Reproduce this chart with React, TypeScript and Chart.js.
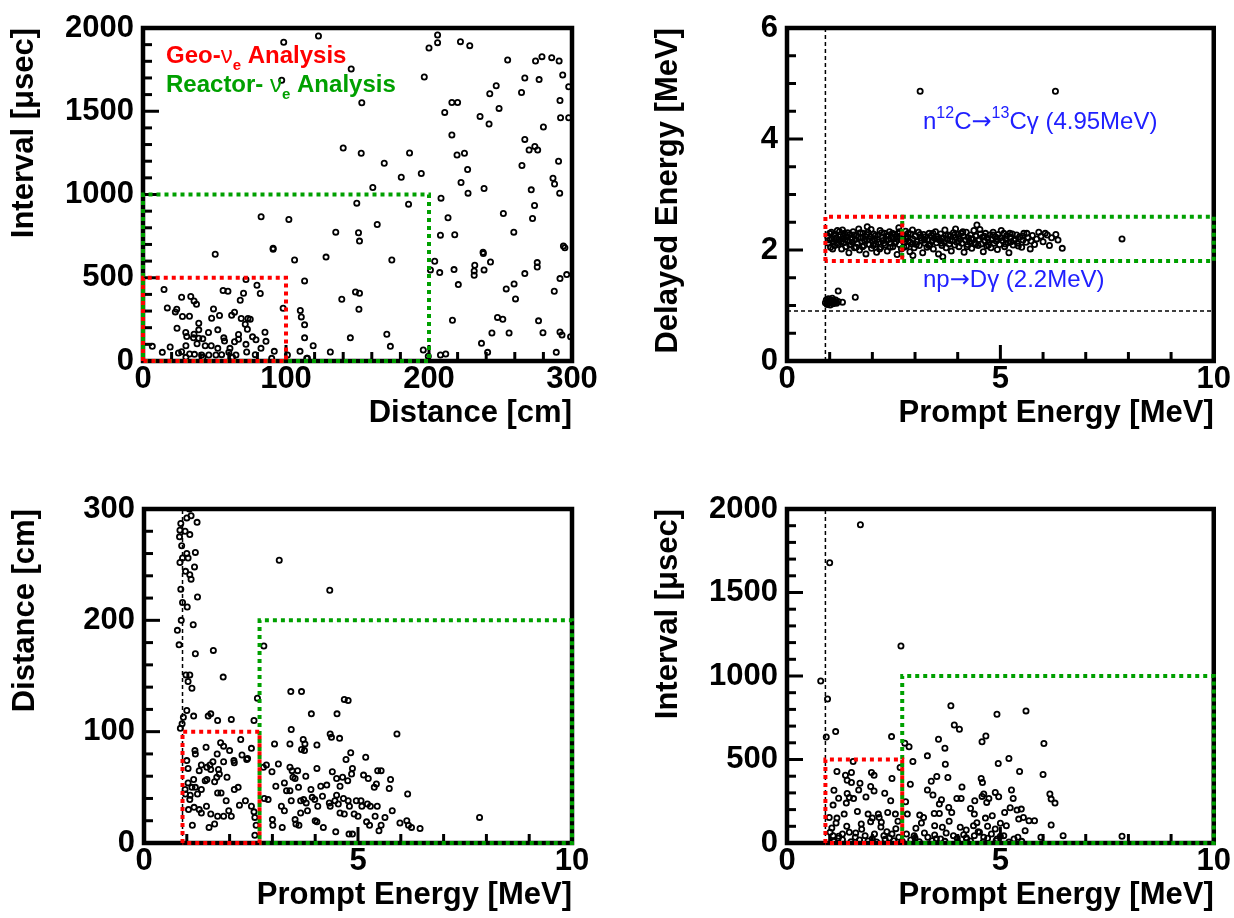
import React, { useEffect, useRef } from "react";
import { Chart, registerables } from "chart.js";

Chart.register(...registerables);

const FONT = "'Liberation Sans', Arial, Helvetica, sans-serif";
const ARROW_FONT = "'DejaVu Sans', 'Liberation Sans', sans-serif";
const RED = "#ff0000";
const GREEN = "#00a000";
const BLUE = "#2020ff";

// ---------------- data ----------------
// Panel 1: Distance [cm] vs Interval [usec]
const distanceIntervalPoints: [number, number][] = [
  [122.7, 1952], [206, 1958], [206, 1912], [200, 1880], [222, 1918], [228.5, 1894], [145.6, 1754], [196.7, 1706],
  [255, 1808], [274.5, 1802], [279, 1828], [285.8, 1822], [291, 1802], [267, 1700], [277, 1690], [293.5, 1718],
  [297.7, 1647], [247, 1653], [242.5, 1605], [264.7, 1613], [291.6, 1565], [216, 1553], [220, 1553], [153, 1551],
  [211, 1493], [249, 1517], [235.7, 1469], [242, 1423], [292, 1461], [297.7, 1461], [280, 1405], [216, 1357],
  [140, 1279], [152.6, 1248], [186.4, 1249], [219.6, 1237], [224.8, 1248], [267, 1331], [270, 1267], [274, 1289],
  [276, 1267], [168.7, 1188], [227, 1150], [290.6, 1200], [265, 1174], [180.6, 1104], [194.6, 1126], [222.4, 1072],
  [286.7, 1098], [287.8, 1063], [160.7, 1042], [238.5, 1036], [227.3, 1008], [271.5, 1028], [291.4, 1008], [149.5, 948],
  [185.7, 942], [208.4, 978], [273.8, 934], [252, 886], [213.3, 860], [272.4, 856], [163.8, 820], [134.8, 774],
  [150.7, 770], [151.4, 720], [208, 756], [218, 758], [259.3, 774], [294, 690], [295, 680], [98.4, 1914], [97, 1686],
  [82.6, 866], [102, 850], [91, 677],
  [50.5, 641], [91, 671], [106, 607], [113, 481], [72, 489], [14.7, 429], [56, 423], [59.4, 419], [70.3, 407],
  [79.7, 455], [82, 405], [27, 383], [33.4, 387], [35.7, 361], [37.4, 341], [68, 365], [17, 319], [23.6, 311],
  [49.3, 313], [98, 317], [110, 303], [22.6, 295], [64, 293], [27.6, 267], [32.5, 269], [48, 257], [53.5, 273],
  [62, 275], [110.7, 265], [68.7, 255], [73.4, 255], [75, 251], [39, 227], [71.5, 221], [113, 217], [23.8, 197],
  [39, 187], [52.3, 187], [73, 191], [29.9, 171], [35.7, 161], [66.8, 159], [85.3, 173], [45.8, 171], [56.5, 139],
  [113, 139], [30.6, 147], [35.3, 139], [41.8, 133], [39, 137], [66.8, 131], [76.6, 145], [57, 120], [64, 116],
  [79, 128], [86, 118], [37.8, 104], [72, 100], [30, 92], [43.5, 92], [47.7, 92], [6.5, 88], [19, 84], [52.3, 76],
  [60.8, 76], [82.5, 76], [119, 92], [27, 56], [13.5, 52], [24.8, 48], [32.6, 42], [36, 40], [41, 36], [46, 36],
  [51, 36], [55, 38], [60, 52], [65, 36], [72.5, 54], [78.5, 38], [91.8, 58], [109.8, 58], [101, 36], [30, 22],
  [42, 22], [62.6, 22], [90, 16], [115, 16],
  [128, 624], [174, 607], [139, 371], [148.6, 415], [151.4, 407], [151, 311], [145, 139], [170.5, 161], [131, 54],
  [173, 88], [196, 66], [114.5, 16], [199.5, 28], [204, 599], [201, 547], [207.5, 531], [217.5, 549], [220.5, 459],
  [232, 575], [231.6, 541], [231.6, 515], [238.5, 547], [237.8, 653], [238, 645], [243, 595], [267, 525], [275.7, 591],
  [275.7, 565], [259.5, 463], [254, 433], [260.5, 373], [291.6, 495], [287.6, 419], [296.3, 519], [247.9, 262],
  [251.6, 251], [216.4, 245], [276.6, 241], [244, 168], [256, 168], [279.7, 170], [291.6, 174], [293, 156],
  [236.7, 106], [241, 52], [211.7, 42], [289, 52], [299, 146], [208, 36],
];

// Panel 2: Prompt Energy [MeV] vs Delayed Energy [MeV]
const promptDelayedPoints: [number, number][] = [
  [0.95, 2.25], [0.98, 2.12], [1.0, 2.3], [1.02, 2.05], [1.05, 2.2], [1.08, 2.15], [1.1, 2.28], [1.12, 2.08],
  [1.15, 2.22], [1.18, 2.35], [1.2, 2.1], [1.22, 2.18], [1.25, 2.27], [1.28, 2.02], [1.3, 2.2], [1.33, 2.13],
  [1.35, 2.3], [1.38, 2.06], [1.4, 2.24], [1.43, 2.17], [1.45, 1.95], [1.48, 2.28], [1.5, 2.1], [1.52, 2.21],
  [1.55, 2.33], [1.58, 2.04], [1.6, 2.19], [1.63, 2.26], [1.65, 2.12], [1.68, 2.38], [1.7, 2.0], [1.73, 2.22],
  [1.75, 2.15], [1.78, 2.3], [1.8, 2.08], [1.83, 2.25], [1.85, 1.93], [1.88, 2.18], [1.9, 2.32], [1.93, 2.1],
  [1.95, 2.24], [1.98, 2.03], [2.0, 2.16], [2.03, 2.29], [2.05, 2.2], [2.08, 2.11], [2.1, 1.96], [2.13, 2.27],
  [2.15, 2.14], [2.18, 2.35], [2.2, 2.05], [2.23, 2.22], [2.25, 2.17], [2.28, 2.3], [2.3, 2.09], [2.33, 2.25],
  [2.35, 1.98], [2.38, 2.19], [2.4, 2.33], [2.43, 2.12], [2.45, 2.24], [2.48, 2.06], [2.5, 2.2], [2.53, 2.28],
  [2.55, 2.15], [2.58, 1.92], [2.6, 2.3], [2.63, 2.1], [2.65, 2.22], [2.68, 2.02], [2.7, 2.18], [2.73, 2.27],
  [2.75, 2.13], [2.78, 2.34], [2.8, 2.07], [2.83, 2.23], [2.85, 2.16], [2.88, 1.97], [2.9, 2.29], [2.93, 2.11],
  [2.95, 2.2], [2.98, 2.04], [3.0, 2.25], [3.05, 2.15], [3.08, 2.32], [3.1, 2.08], [3.13, 2.22], [3.15, 2.17],
  [3.18, 1.95], [3.2, 2.28], [3.23, 2.12], [3.25, 2.24], [3.28, 2.05], [3.3, 2.19], [3.33, 2.3], [3.35, 2.1],
  [3.38, 2.26], [3.4, 2.16], [3.43, 2.02], [3.45, 2.21], [3.48, 2.33], [3.5, 2.13], [3.53, 2.24], [3.55, 1.93],
  [3.58, 2.18], [3.6, 2.29], [3.63, 2.08], [3.65, 2.22], [3.68, 2.15], [3.7, 2.36], [3.73, 2.04], [3.75, 2.2],
  [3.78, 2.27], [3.8, 2.11], [3.83, 2.25], [3.85, 1.98], [3.88, 2.17], [3.9, 2.31], [3.93, 2.09], [3.95, 2.23],
  [3.98, 2.14], [4.0, 2.28], [4.03, 2.06], [4.05, 2.2], [4.08, 2.3], [4.1, 2.12], [4.13, 2.25], [4.15, 1.96],
  [4.18, 2.18], [4.2, 2.32], [4.23, 2.1], [4.25, 2.22], [4.28, 2.15], [4.3, 2.27], [4.33, 2.03], [4.35, 2.2],
  [4.38, 2.35], [4.4, 2.13], [4.43, 2.25], [4.45, 2.45], [4.48, 2.08], [4.5, 2.19], [4.53, 2.29], [4.55, 2.11],
  [4.58, 2.23], [4.6, 1.97], [4.63, 2.17], [4.65, 2.3], [4.68, 2.07], [4.7, 2.21], [4.73, 2.14], [4.75, 2.27],
  [4.78, 2.04], [4.8, 2.19], [4.83, 2.32], [4.85, 2.12], [4.88, 2.24], [4.9, 2.16], [4.93, 2.01], [4.95, 2.28],
  [4.98, 2.1], [5.0, 2.22], [5.05, 2.17], [5.08, 2.3], [5.1, 2.06], [5.13, 2.2], [5.15, 2.26], [5.18, 2.13],
  [5.2, 1.95], [5.23, 2.23], [5.25, 2.15], [5.28, 2.29], [5.3, 2.09], [5.35, 2.2], [5.38, 2.27], [5.4, 2.12],
  [5.45, 2.24], [5.5, 2.05], [5.53, 2.18], [5.55, 2.3], [5.6, 2.14], [5.65, 2.22], [5.7, 2.02], [5.75, 2.26],
  [5.8, 2.1], [5.85, 2.2], [5.9, 2.32], [6.0, 2.15], [6.1, 2.27], [6.2, 2.22], [6.3, 2.28], [6.45, 2.03],
  [7.85, 2.2], [1.88, 2.42], [2.62, 2.4], [3.95, 2.38], [1.3, 2.36], [2.95, 1.9], [3.65, 1.88],
  [1.0, 2.18], [1.04, 2.32], [1.07, 2.02], [1.13, 2.26], [1.17, 2.12], [1.23, 2.33], [1.27, 2.15], [1.32, 2.25],
  [1.37, 2.19], [1.42, 2.31], [1.47, 2.09], [1.53, 2.14], [1.57, 2.27], [1.62, 2.05], [1.67, 2.23], [1.72, 2.31],
  [1.77, 2.06], [1.82, 2.17], [1.87, 2.28], [1.92, 2.2], [1.97, 2.37], [2.02, 2.08], [2.07, 2.26], [2.12, 2.19],
  [2.17, 2.02], [2.22, 2.31], [2.27, 2.12], [2.32, 2.18], [2.37, 2.27], [2.42, 2.05], [2.47, 2.3], [2.52, 2.12],
  [2.57, 2.24], [2.64, 2.33], [2.69, 2.26], [2.74, 2.05], [2.79, 2.2], [2.84, 2.3], [2.89, 2.14], [2.94, 2.36],
  [3.03, 2.1], [3.12, 2.28], [3.22, 2.18], [3.32, 2.08], [3.42, 2.3], [3.52, 2.2], [3.62, 2.12], [3.72, 2.26],
  [3.82, 2.17], [3.92, 2.27], [4.02, 2.16], [4.12, 2.33], [4.22, 2.06], [4.32, 2.2], [4.42, 2.1], [4.52, 2.37],
  [4.62, 2.25], [4.72, 2.09], [4.82, 2.27], [4.92, 2.2], [5.02, 2.35], [5.12, 2.11], [5.22, 2.3], [5.32, 2.17],
  [5.42, 2.07], [5.52, 2.25], [5.62, 2.3], [5.72, 2.16], [5.95, 2.25], [6.05, 2.3], [6.15, 2.08], [6.35, 2.18],
  [0.9, 1.05], [0.92, 1.1], [0.94, 1.02], [0.95, 1.07], [0.97, 1.12], [0.98, 1.04], [1.0, 1.08], [1.01, 1.01],
  [1.03, 1.1], [1.05, 1.05], [1.06, 1.13], [1.08, 1.03], [1.1, 1.08], [1.12, 1.06], [1.14, 1.1], [1.16, 1.04],
  [1.2, 1.07], [1.2, 1.26], [1.3, 1.06], [1.6, 1.15],
  [3.12, 4.86], [6.29, 4.86],
];

// Panel 3: Prompt Energy [MeV] vs Distance [cm]
const promptDistancePoints: [number, number][] = [
  [1.06, 300], [1.1, 294], [1.0, 292], [1.24, 288], [0.86, 287], [0.84, 281], [0.96, 280], [1.07, 277], [0.83, 275],
  [0.88, 267], [1.0, 260], [1.2, 261], [0.9, 256], [1.03, 256], [0.84, 252], [0.97, 244], [1.18, 248], [1.07, 241],
  [1.1, 237], [0.86, 228], [0.9, 216], [1.01, 212], [1.25, 221], [0.87, 200], [0.78, 191], [1.15, 196], [0.82, 178],
  [1.2, 170], [1.62, 173], [1.85, 149], [0.98, 151], [1.07, 151], [1.03, 145], [1.12, 139], [3.16, 254], [2.8, 177],
  [3.43, 136], [3.68, 136], [2.65, 130], [1.0, 119], [4.34, 227], [4.68, 129], [4.77, 128],
  [0.85, 103], [0.89, 107], [0.92, 113], [1.16, 114], [1.5, 114], [1.56, 116], [1.72, 110], [2.04, 111], [2.57, 110],
  [3.91, 116], [4.51, 116], [5.91, 98], [3.44, 102], [4.35, 98], [4.38, 95], [4.57, 94], [3.05, 89], [3.41, 89],
  [3.72, 93], [3.76, 89], [3.68, 84], [3.75, 83], [4.04, 88], [2.26, 93], [2.0, 83], [1.79, 90], [1.86, 87],
  [1.45, 86], [1.19, 83], [1.2, 80], [1.71, 80], [2.29, 79], [2.42, 76], [2.51, 85], [2.4, 75], [2.1, 74], [2.11, 72],
  [1.86, 73], [1.61, 73], [1.54, 70], [1.47, 68], [1.0, 74], [1.03, 67], [1.29, 65], [1.34, 70], [1.56, 66],
  [1.74, 66], [1.76, 62], [1.94, 59], [1.7, 59], [1.47, 57], [1.43, 56], [1.16, 57], [1.03, 54], [1.12, 50],
  [1.2, 50], [1.34, 48], [1.25, 44], [1.08, 43], [0.96, 48], [0.97, 44], [1.07, 39], [1.04, 30], [1.17, 32],
  [1.29, 30], [1.34, 27], [1.46, 33], [1.56, 26], [1.72, 24], [1.86, 24], [2.04, 24], [1.98, 29], [2.23, 34],
  [2.37, 38], [2.51, 33], [2.57, 28], [2.59, 23], [2.62, 16], [2.59, 7], [1.52, 14], [1.65, 17], [1.13, 16],
  [1.72, 45], [1.92, 38], [2.2, 50], [2.11, 48], [1.65, 55], [1.8, 45],
  [2.79, 68], [2.86, 70], [2.99, 64], [3.14, 71], [3.41, 68], [3.46, 65], [3.59, 65], [3.48, 59], [3.53, 58],
  [3.28, 54], [3.08, 51], [3.33, 47], [3.61, 50], [3.78, 60], [3.9, 48], [4.04, 67], [4.13, 51], [4.27, 52],
  [4.4, 64], [4.5, 58], [4.58, 51], [4.64, 59], [4.76, 56], [4.85, 62], [4.87, 67], [4.83, 81], [4.72, 75],
  [5.18, 77], [5.13, 61], [5.24, 58], [5.46, 65], [5.54, 65], [5.38, 50], [5.43, 53], [5.76, 57], [5.73, 49],
  [6.16, 44], [5.8, 29], [5.63, 23], [5.98, 18], [6.14, 20], [6.18, 16], [6.25, 14], [6.45, 13], [7.84, 23],
  [2.81, 40], [2.9, 39], [3.0, 21], [3.01, 16], [3.23, 14], [3.21, 33], [3.28, 29], [3.41, 47], [3.44, 38],
  [3.53, 21], [3.55, 17], [3.62, 16], [3.66, 38], [3.73, 39], [3.79, 36], [3.82, 29], [3.93, 41], [3.99, 39],
  [4.0, 20], [4.04, 19], [4.17, 42], [4.19, 14], [4.06, 33], [4.33, 36], [4.35, 33], [4.46, 38], [4.54, 35],
  [4.58, 27], [4.48, 10], [4.66, 40], [4.77, 38], [4.8, 33], [4.68, 26], [4.96, 38], [5.07, 38], [4.91, 26],
  [5.0, 24], [5.09, 33], [5.22, 35], [5.29, 33], [5.45, 33], [5.4, 24], [5.2, 19], [5.27, 16], [5.49, 11],
  [5.54, 16], [4.79, 8], [4.87, 8], [3.66, 27], [4.5, 43],
];

// Panel 4: Prompt Energy [MeV] vs Interval [usec]
const promptIntervalPoints: [number, number][] = [
  [1.72, 1906], [1.0, 1678], [2.67, 1180], [0.79, 970], [0.95, 862], [3.84, 822],
  [5.6, 791], [4.92, 771], [1.14, 667], [0.92, 635], [3.92, 707], [4.04, 681], [2.45, 637], [4.66, 641], [4.57, 606],
  [3.55, 621], [2.76, 598], [2.86, 576], [3.7, 568], [6.02, 596], [3.29, 522], [2.95, 488], [1.55, 488], [4.95, 476],
  [5.2, 506], [3.71, 472], [5.45, 428], [6.0, 410], [1.17, 428], [1.51, 422], [1.98, 422], [2.04, 406], [1.37, 406],
  [1.41, 376], [1.71, 358], [1.51, 362], [2.46, 386], [2.65, 452], [3.51, 398], [3.77, 392], [3.38, 370], [4.55, 386],
  [4.58, 362], [4.1, 336], [1.96, 338], [2.89, 352], [1.1, 316], [1.68, 318], [2.04, 312], [3.29, 318], [2.29, 298],
  [1.41, 296], [1.46, 272], [1.56, 266], [1.21, 268], [1.85, 276], [2.43, 253], [2.78, 247], [3.42, 287], [3.62, 259],
  [3.57, 233], [3.98, 267], [4.08, 267], [4.4, 253], [4.57, 279], [4.68, 243], [4.73, 267], [4.61, 293], [4.88, 303],
  [4.96, 277], [5.26, 317], [5.3, 267], [6.16, 293], [6.19, 263], [6.28, 239], [1.08, 227], [1.39, 239], [3.79, 213],
  [3.86, 183], [4.3, 207], [4.39, 173], [5.1, 183], [5.23, 211], [5.39, 197], [5.49, 203], [1.65, 189], [1.9, 173],
  [2.14, 173], [2.16, 153], [2.36, 183], [2.54, 173], [2.82, 173], [3.11, 167], [3.2, 153], [3.45, 177], [3.57, 177],
  [4.65, 149], [4.81, 163], [5.43, 143], [5.54, 153], [5.67, 133], [5.8, 133], [6.19, 108], [0.99, 153], [1.17, 149],
  [1.34, 173], [1.96, 127], [1.74, 114], [2.21, 124], [3.02, 88], [3.46, 104], [3.64, 94], [4.06, 94], [4.2, 78],
  [4.37, 104], [4.48, 68], [4.7, 100], [4.88, 84], [5.14, 104], [5.58, 74], [5.95, 34], [6.47, 44], [7.85, 40],
  [1.01, 64], [1.08, 44], [1.21, 40], [1.3, 54], [1.46, 64], [1.61, 60], [1.83, 44], [2.05, 54], [2.27, 44],
  [2.34, 68], [2.46, 54], [2.62, 34], [2.8, 54], [2.98, 44], [3.22, 60], [3.3, 34], [3.46, 48], [3.6, 24], [3.73, 60],
  [3.9, 44], [3.99, 28], [4.14, 50], [4.21, 24], [4.39, 44], [4.51, 64], [4.61, 34], [4.79, 54], [4.92, 24],
  [5.08, 44], [5.32, 24], [5.41, 34],
  [1.1, 10], [1.3, 20], [1.5, 8], [1.7, 18], [1.9, 12], [2.1, 6], [2.3, 22], [2.5, 14], [2.7, 10], [2.9, 18],
  [3.1, 8], [3.4, 14], [3.7, 10], [4.0, 6], [4.3, 12], [4.6, 8], [4.9, 14], [5.2, 6], [5.5, 10], [1.2, 28], [1.6, 34],
  [2.0, 26], [2.4, 30], [3.0, 30], [3.5, 26], [4.2, 32], [4.7, 28], [5.0, 40], [1.05, 90], [1.4, 100], [1.75, 82],
  [2.2, 96], [2.55, 86], [3.15, 120], [3.8, 130], [4.45, 122], [5.0, 118], [1.15, 120], [2.6, 130], [2.0, 150],
];

// selection boxes and thresholds
const geoBoxDistInterval: [number, number][] = [[0, 0], [0, 500], [100, 500], [100, 0], [0, 0]];
const reactorBoxDistInterval: [number, number][] = [[0, 0], [0, 1000], [200, 1000], [200, 0], [0, 0]];
const geoBoxPromptDelayed: [number, number][] = [[0.9, 1.8], [0.9, 2.6], [2.7, 2.6], [2.7, 1.8], [0.9, 1.8]];
const reactorBoxPromptDelayed: [number, number][] = [[2.7, 1.8], [2.7, 2.6], [10, 2.6], [10, 1.8], [2.7, 1.8]];
const geoBoxPromptDistance: [number, number][] = [[0.9, 0], [0.9, 100], [2.7, 100], [2.7, 0], [0.9, 0]];
const reactorBoxPromptDistance: [number, number][] = [[2.7, 0], [2.7, 200], [10, 200], [10, 0], [2.7, 0]];
const geoBoxPromptInterval: [number, number][] = [[0.9, 0], [0.9, 500], [2.7, 500], [2.7, 0], [0.9, 0]];
const reactorBoxPromptInterval: [number, number][] = [[2.7, 0], [2.7, 1000], [10, 1000], [10, 0], [2.7, 0]];
const promptThresholdLineDelayed: [number, number][] = [[0.9, 0], [0.9, 6]];
const delayedThresholdLine: [number, number][] = [[0, 0.9], [10, 0.9]];
const promptThresholdLineDistance: [number, number][] = [[0.9, 0], [0.9, 300]];
const promptThresholdLineInterval: [number, number][] = [[0.9, 0], [0.9, 2000]];

// axis definitions
const distanceAxis = { min: 0, max: 300, major: 100, minor: 20, title: "Distance [cm]" };
const intervalAxis = { min: 0, max: 2000, major: 500, minor: 100, title: "Interval [\u03bcsec]" };
const promptAxis = { min: 0, max: 10, major: 5, minor: 1, title: "Prompt Energy [MeV]" };
const delayedAxis = { min: 0, max: 6, major: 2, minor: 0.5, title: "Delayed Energy [MeV]" };

// ---------------- drawing helpers ----------------
const W = 1234;
const H = 918;
const YW = 135; // y-scale box width
const XH = 68; // x-scale box height

type Run = { t: string; size: number; bold?: boolean; dy?: number; color: string; family?: string };

function drawRuns(ctx: CanvasRenderingContext2D, x: number, y: number, runs: Run[]) {
  let cx = x;
  for (const r of runs) {
    ctx.font = `${r.bold ? "bold " : ""}${r.size}px ${r.family || FONT}`;
    ctx.fillStyle = r.color;
    ctx.textAlign = "left";
    ctx.textBaseline = "alphabetic";
    ctx.fillText(r.t, cx, y + (r.dy || 0));
    cx += ctx.measureText(r.t).width;
  }
}

type AxisDef = typeof distanceAxis;
type Box = { pts: [number, number][]; color: string };

type Panel = {
  area: [number, number, number, number];
  points: [number, number][];
  xAxis: AxisDef;
  yAxis: AxisDef;
  boxes: Box[];
  dashed: [number, number][][];
  text?: (ctx: CanvasRenderingContext2D, a: any) => void;
};

function makeFramePlugin(p: Panel) {
  return {
    id: "rootFrame",
    beforeDatasetsDraw(chart: any) {
      const ctx: CanvasRenderingContext2D = chart.ctx;
      const a = chart.chartArea;
      const scales = chart.scales;
      ctx.save();
      ctx.strokeStyle = "#000";
      ctx.lineCap = "butt";
      ctx.lineWidth = 3;
      const tickSet = (scale: any, def: AxisDef, horiz: boolean) => {
        const n = Math.round((def.max - def.min) / def.minor);
        for (let i = 0; i <= n; i++) {
          const v = def.min + i * def.minor;
          const isMajor = Math.abs(v / def.major - Math.round(v / def.major)) < 1e-6;
          const len = isMajor ? 16 : 9;
          const px = scale.getPixelForValue(v);
          ctx.beginPath();
          if (horiz) {
            ctx.moveTo(px, a.bottom);
            ctx.lineTo(px, a.bottom - len);
          } else {
            ctx.moveTo(a.left, px);
            ctx.lineTo(a.left + len, px);
          }
          ctx.stroke();
        }
      };
      tickSet(scales.x, p.xAxis, true);
      tickSet(scales.y, p.yAxis, false);
      ctx.lineWidth = 4.5;
      ctx.strokeRect(a.left, a.top, a.right - a.left, a.bottom - a.top);
      ctx.restore();
    },
    afterDatasetsDraw(chart: any) {
      if (p.text) {
        const ctx: CanvasRenderingContext2D = chart.ctx;
        ctx.save();
        p.text(ctx, chart.chartArea);
        ctx.restore();
      }
    },
  };
}

const toXY = (pts: [number, number][]) => pts.map(([x, y]) => ({ x, y }));

function buildConfig(p: Panel): any {
  const [L, T, R, B] = p.area;
  const tickFont = { family: FONT, size: 31, weight: "bold", lineHeight: 1 };
  const datasets: any[] = [];
  p.boxes.forEach((b, i) => {
    datasets.push({
      data: toXY(b.pts),
      showLine: true,
      borderColor: b.color,
      backgroundColor: b.color,
      borderWidth: 4,
      borderDash: [4, 4],
      borderDashOffset: i % 2 === 0 ? 0 : 4,
      pointRadius: 0,
      fill: false,
      tension: 0,
      clip: false,
      order: 0,
    });
  });
  p.dashed.forEach((d) => {
    datasets.push({
      data: toXY(d),
      showLine: true,
      borderColor: "#000",
      borderWidth: 1.5,
      borderDash: [4, 3],
      pointRadius: 0,
      fill: false,
      clip: false,
      order: 1,
    });
  });
  datasets.push({
    data: toXY(p.points),
    showLine: false,
    pointStyle: "circle",
    pointRadius: 2.6,
    borderWidth: 1.8,
    borderColor: "#000",
    backgroundColor: "rgba(255,255,255,0)",
    order: 2,
  });
  const fmt = (v: any) => String(v);
  return {
    type: "scatter",
    data: { datasets },
    plugins: [makeFramePlugin(p)],
    options: {
      responsive: false,
      maintainAspectRatio: false,
      animation: false,
      events: [],
      layout: { padding: { left: L - YW, top: T, right: W - R, bottom: H - B - XH } },
      plugins: {
        legend: { display: false },
        tooltip: { enabled: false },
      },
      scales: {
        x: {
          type: "linear",
          position: "bottom",
          min: p.xAxis.min,
          max: p.xAxis.max,
          grid: { display: false, drawTicks: false },
          border: { display: false },
          ticks: {
            stepSize: p.xAxis.major,
            autoSkip: false,
            maxRotation: 0,
            minRotation: 0,
            padding: 3,
            color: "#000",
            font: tickFont,
            callback: fmt,
          },
          title: {
            display: true,
            text: p.xAxis.title,
            align: "end",
            color: "#000",
            font: tickFont,
            padding: { top: 0, bottom: 0 },
          },
          afterFit: (s: any) => {
            s.height = XH;
          },
        },
        y: {
          type: "linear",
          position: "left",
          min: p.yAxis.min,
          max: p.yAxis.max,
          grid: { display: false, drawTicks: false },
          border: { display: false },
          ticks: {
            stepSize: p.yAxis.major,
            autoSkip: false,
            padding: 9,
            color: "#000",
            font: tickFont,
            callback: fmt,
          },
          title: {
            display: true,
            text: p.yAxis.title,
            align: "end",
            color: "#000",
            font: tickFont,
            padding: { top: 0.5, bottom: 0 },
          },
          afterFit: (s: any) => {
            s.width = YW;
          },
        },
      },
    },
  };
}

const panels: Panel[] = [
  {
    area: [143, 28, 572, 361],
    points: distanceIntervalPoints,
    xAxis: distanceAxis,
    yAxis: intervalAxis,
    boxes: [
      { pts: geoBoxDistInterval, color: RED },
      { pts: reactorBoxDistInterval, color: GREEN },
    ],
    dashed: [],
    text: (ctx, a) => {
      drawRuns(ctx, a.left + 23, a.top + 35, [
        { t: "Geo-", size: 24, bold: true, color: RED },
        { t: "\u03bd", size: 24, color: RED },
        { t: "e", size: 15, bold: true, dy: 7, color: RED },
        { t: " Analysis", size: 24, bold: true, color: RED },
      ]);
      drawRuns(ctx, a.left + 23, a.top + 64, [
        { t: "Reactor- ", size: 24, bold: true, color: GREEN },
        { t: "\u03bd", size: 24, color: GREEN },
        { t: "e", size: 15, bold: true, dy: 7, color: GREEN },
        { t: " Analysis", size: 24, bold: true, color: GREEN },
      ]);
    },
  },
  {
    area: [787, 28, 1214, 361],
    points: promptDelayedPoints,
    xAxis: promptAxis,
    yAxis: delayedAxis,
    boxes: [
      { pts: geoBoxPromptDelayed, color: RED },
      { pts: reactorBoxPromptDelayed, color: GREEN },
    ],
    dashed: [promptThresholdLineDelayed, delayedThresholdLine],
    text: (ctx, a) => {
      drawRuns(ctx, a.left + 136, a.top + 101, [
        { t: "n", size: 24, color: BLUE },
        { t: "12", size: 16, dy: -11, color: BLUE },
        { t: "C", size: 24, color: BLUE },
        { t: "\u2192", size: 24, color: BLUE, family: ARROW_FONT },
        { t: "13", size: 16, dy: -11, color: BLUE },
        { t: "C\u03b3 (4.95MeV)", size: 24, color: BLUE },
      ]);
      drawRuns(ctx, a.left + 136, a.top + 259, [
        { t: "np", size: 24, color: BLUE },
        { t: "\u2192", size: 24, color: BLUE, family: ARROW_FONT },
        { t: "D\u03b3 (2.2MeV)", size: 24, color: BLUE },
      ]);
    },
  },
  {
    area: [144, 509, 572, 843],
    points: promptDistancePoints,
    xAxis: promptAxis,
    yAxis: distanceAxis,
    boxes: [
      { pts: geoBoxPromptDistance, color: RED },
      { pts: reactorBoxPromptDistance, color: GREEN },
    ],
    dashed: [promptThresholdLineDistance],
  },
  {
    area: [787, 509, 1214, 843],
    points: promptIntervalPoints,
    xAxis: promptAxis,
    yAxis: intervalAxis,
    boxes: [
      { pts: geoBoxPromptInterval, color: RED },
      { pts: reactorBoxPromptInterval, color: GREEN },
    ],
    dashed: [promptThresholdLineInterval],
  },
];

export default function App() {
  const r0 = useRef<HTMLCanvasElement>(null);
  const r1 = useRef<HTMLCanvasElement>(null);
  const r2 = useRef<HTMLCanvasElement>(null);
  const r3 = useRef<HTMLCanvasElement>(null);
  const refs = [r0, r1, r2, r3];
  useEffect(() => {
    const charts: Chart[] = [];
    panels.forEach((p, i) => {
      const c = refs[i].current;
      if (c) charts.push(new Chart(c, buildConfig(p)));
    });
    return () => charts.forEach((c) => c.destroy());
  }, []);
  return (
    <div style={{ position: "fixed", left: 0, top: 0, width: W, height: H, background: "#fff", overflow: "hidden" }}>
      {refs.map((r, i) => (
        <canvas
          key={i}
          ref={r}
          width={W}
          height={H}
          style={{ position: "absolute", left: 0, top: 0, width: W, height: H }}
        />
      ))}
    </div>
  );
}
